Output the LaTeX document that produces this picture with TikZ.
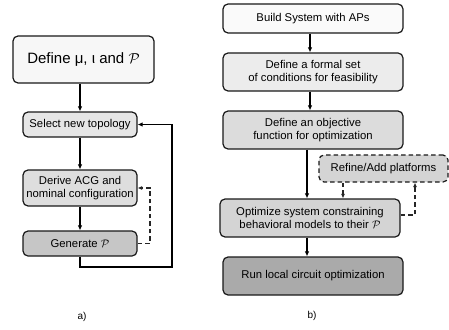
\documentclass[tikz,border=0pt]{standalone}
\usepackage{fontspec}
\setmainfont{Liberation Sans}
\usetikzlibrary{arrows.meta,calc}
\definecolor{fa}{HTML}{F7F7F7}
\definecolor{fb}{HTML}{E6E6E6}
\definecolor{fc}{HTML}{DEDEDE}
\definecolor{fd}{HTML}{C6C6C6}
\definecolor{ga}{HTML}{FAFAFA}
\definecolor{gb}{HTML}{ECECEC}
\definecolor{gc}{HTML}{DCDCDC}
\definecolor{gd}{HTML}{D4D4D4}
\definecolor{ge}{HTML}{AAAAAA}
\begin{document}
\begin{tikzpicture}[x=1pt,y=-1pt,
  box/.style={draw=black!90, line width=1.2pt, rounded corners=5pt, align=center,
    font=\fontsize{11.3}{13}\selectfont, inner sep=0pt, text=black},
  arr/.style={-{Latex[length=5pt,width=4.5pt]}, line width=1.3pt, draw=black},
  darr/.style={-{Latex[length=4.5pt,width=4pt]}, line width=1.3pt, draw=black!85, dash pattern=on 4.5pt off 3pt},
  lbl/.style={font=\fontsize{10}{12}\selectfont, inner sep=0pt}]
\useasboundingbox (0,0) rectangle (449,329);
% left diagram
\node[box, fill=fa, minimum width=141pt, minimum height=47pt, font=\fontsize{15}{18}\selectfont] (a1) at (83.5,59.5) {Define μ, ι and $\mathcal{P}$};
\node[box, fill=fb, minimum width=114pt, minimum height=25pt] (a2) at (80,124.5) {Select new topology};
\node[box, fill=fc, minimum width=114pt, minimum height=36pt] (a3) at (80,188) {Derive ACG and\\nominal configuration};
\node[box, fill=fd, minimum width=114pt, minimum height=25pt] (a4) at (80,243.5) {Generate $\mathcal{P}$};
\coordinate (l1) at (80,267);
\coordinate (l2) at (172,267);
\coordinate (d1) at (150,243.5);
\draw[arr] (a1.south -| a2.north) -- (a2.north);
\draw[arr] (a2) -- (a3);
\draw[arr] (a3) -- (a4);
\draw[arr] (a4.south) -- (l1) -- (l2) |- (a2.east);
\draw[darr] (a4.east) -- (d1) |- (a3.east);
\node[lbl] (la) at (82,317) {a)};
% right diagram
\node[box, fill=ga, minimum width=180pt, minimum height=29pt] (b1) at (313,18.5) {Build System with APs};
\node[box, fill=gb, minimum width=180pt, minimum height=38pt] (b2) at (313,72) {Define a formal set\\of conditions for feasibility};
\node[box, fill=gc, minimum width=180pt, minimum height=38pt] (b3) at (313,130) {Define an objective\\function for optimization};
\node[box, fill=gd, minimum width=129pt, minimum height=27pt, dash pattern=on 4.5pt off 3pt] (b4) at (383.5,168.5) {Refine/Add platforms};
\node[box, fill=gd, minimum width=180pt, minimum height=38pt] (b5) at (310,218) {Optimize system constraining\\behavioral models to their $\mathcal{P}$};
\node[box, fill=ge, minimum width=180pt, minimum height=38pt] (b6) at (313,276) {Run local circuit optimization};
\coordinate (r1) at (415,215);
\draw[arr] ($(b1.south)+(-3,0)$) -- ($(b2.north)+(-3,0)$);
\draw[arr] ($(b2.south)+(-3,0)$) -- ($(b3.north)+(-3,0)$);
\draw[arr] ($(b3.south)+(-6,0)$) -- ($(b5.north)+(-3,0)$);
\draw[arr] ($(b5.south)+(-3,0)$) -- ($(b6.north)+(-6,0)$);
\draw[darr] ($(b4.south)+(-40.5,0)$) -- ($(b5.north)+(33,0)$);
\draw[darr] (b5.east |- r1) -- (r1) -- (r1 |- b4.south);
\node[lbl] (lb) at (312,316) {b)};
\end{tikzpicture}
\end{document}
